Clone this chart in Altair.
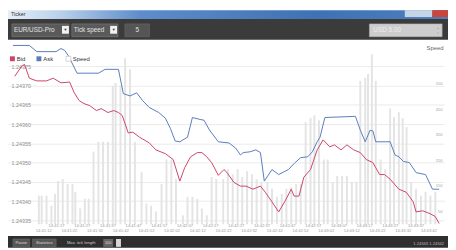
import altair as alt
import pandas as pd

FONT = "Liberation Sans"

# ---------------- data ----------------
ask_time = [0, 6.4, 9.3, 16.8, 18.7, 20.2, 21.7, 25.0, 33.3, 35.9, 41.1, 43.0, 45.6, 48.2, 50.5,
            53.1, 56.8, 59.4, 61.3, 63.2, 65.0, 68.0, 69.9, 72.9, 74.4, 76.6, 80.0, 84.1, 86.7, 88.6,
            89.7, 92.3, 94.6, 96.4, 97.9, 100.9, 103.5, 107.3, 109.9, 112.1, 114.8, 116.6, 118.5, 119.6,
            121.5, 133.4, 135.3, 137.2, 139.1, 140.2, 141.3, 146.9, 148.8, 150.3, 152.1, 154.4, 157.0,
            160.7, 163.4, 166.0]
ask_price = [1.243804, 1.243804, 1.243788, 1.243788, 1.243796, 1.243791, 1.243776, 1.243732, 1.243732,
             1.243742, 1.243742, 1.243679, 1.243673, 1.243681, 1.243661, 1.243643, 1.243630, 1.243615,
             1.243589, 1.243556, 1.243554, 1.243566, 1.243617, 1.243612, 1.243610, 1.243584, 1.243554,
             1.243551, 1.243538, 1.243520, 1.243526, 1.243528, 1.243533, 1.243526, 1.243452, 1.243482,
             1.243469, 1.243482, 1.243500, 1.243513, 1.243515, 1.243528, 1.243554, 1.243566, 1.243617,
             1.243620, 1.243584, 1.243554, 1.243584, 1.243582, 1.243554, 1.243554, 1.243520, 1.243515,
             1.243503, 1.243500, 1.243474, 1.243469, 1.243431, 1.243431]

bid_time = [0.7, 3.4, 4.5, 6.4, 9.3, 13.1, 15.7, 18.7, 22.1, 23.9, 25.8, 27.7, 29.9, 32.5, 34.4, 37.0,
            39.3, 41.1, 42.6, 44.9, 46.7, 49.3, 53.1, 55.7, 59.4, 62.4, 65.0, 66.9, 69.2, 71.8, 73.6,
            75.5, 77.4, 80.0, 82.2, 83.4, 86.0, 88.6, 90.8, 93.5, 96.4, 98.3, 100.9, 103.5, 105.8, 108.4,
            109.5, 111.4, 113.3, 115.9, 118.5, 120.8, 123.4, 125.2, 127.8, 130.1, 132.7, 135.3, 137.6,
            140.2, 142.8, 144.7, 146.9, 150.3, 153.2, 155.9, 157.0, 159.6, 162.6, 164.5, 166.0]
bid_price = [1.243724, 1.243750, 1.243755, 1.243719, 1.243712, 1.243712, 1.243719, 1.243707, 1.243709,
             1.243681, 1.243661, 1.243653, 1.243648, 1.243635, 1.243640, 1.243630, 1.243635, 1.243630,
             1.243622, 1.243577, 1.243579, 1.243566, 1.243551, 1.243533, 1.243523, 1.243508, 1.243452,
             1.243487, 1.243515, 1.243526, 1.243526, 1.243515, 1.243500, 1.243467, 1.243482, 1.243474,
             1.243449, 1.243439, 1.243439, 1.243431, 1.243439, 1.243423, 1.243398, 1.243372, 1.243398,
             1.243431, 1.243413, 1.243413, 1.243462, 1.243482, 1.243533, 1.243559, 1.243541, 1.243546,
             1.243533, 1.243546, 1.243533, 1.243526, 1.243508, 1.243500, 1.243469, 1.243469, 1.243457,
             1.243431, 1.243423, 1.243398, 1.243372, 1.243375, 1.243367, 1.243360, 1.243342]

speed_time = [10.1, 11.2, 13.1, 15.0, 16.4, 17.6, 19.4, 21.3, 23.2, 24.3, 26.2, 28.0, 29.5, 31.4,
              33.3, 35.1, 37.0, 38.9, 40.0, 41.9, 43.7, 45.6, 47.5,
              50.1, 52.0, 53.8, 55.7, 57.9, 59.8, 61.7, 63.5, 66.2, 68.0, 69.9, 71.8, 73.6, 75.5, 77.4, 79.2, 81.9,
              83.7, 85.6, 87.5, 89.3, 91.2, 93.1, 94.9, 96.8, 99.1, 100.9, 102.8, 104.7, 106.5, 108.4, 110.3, 112.1,
              114.0, 115.9, 117.4, 119.2, 121.1, 122.6, 124.5, 126.3, 128.2, 130.1, 132.0, 133.8,
              135.3, 137.2, 138.3, 139.8, 141.3, 143.2, 145.0, 146.9, 148.4, 150.3, 151.8, 153.3,
              155.1, 157.0, 158.9, 160.7, 162.6, 164.5]
speed_value = [112, 112, 112, 73, 119, 169, 177, 158, 158, 127, 62, 100, 100, 285,
               323, 323, 323, 543, 554, 543, 651, 608, 323,
               204, 81, 73, 50, 158, 254, 254, 177, 35, 108, 108, 100, 62, 35, 185, 177, 177,
               216, 196, 216, 185, 208, 196, 177, 166, 166, 139, 108, 119, 139, 146, 158, 158,
               400, 416, 427, 408, 254, 254, 166, 189, 189, 189, 166, 166,
               562, 574, 589, 666, 562, 254, 216, 454, 420, 439, 416, 381,
               166, 139, 112, 127, 112, 127]

price_ticks = [1.24335, 1.24340, 1.24345, 1.24350, 1.24355, 1.24360, 1.24365, 1.24370, 1.24375]
speed_ticks = [50, 150, 250, 350, 450, 550]
time_ticks = [12, 17, 22, 27, 32, 37, 42, 47, 52, 57, 62, 67, 72, 77, 82, 87, 92, 97, 102, 107,
              112, 117, 122, 127, 132, 137, 142, 147, 152, 157, 162]
time_labels = ["14:41:12", "14:41:17", "14:41:22", "14:41:27", "14:41:32", "14:41:37", "14:41:42",
               "14:41:47", "14:41:52", "14:41:57", "14:42:02", "14:42:07", "14:42:12", "14:42:17",
               "14:42:22", "14:42:27", "14:42:32", "14:42:37", "14:42:42", "14:42:47", "14:42:52",
               "14:42:57", "14:43:02", "14:43:07", "14:43:12", "14:43:17", "14:43:22", "14:43:27",
               "14:43:32", "14:43:37", "14:43:42"]
series_names = ["Bid", "Ask"]
series_colors = ["#cc4468", "#5a7bbb"]

# ---------------- tables ----------------
lines_df = pd.concat([
    pd.DataFrame({"t": ask_time, "price": ask_price, "series": "Ask"}),
    pd.DataFrame({"t": bid_time, "price": bid_price, "series": "Bid"}),
])
bars_df = pd.DataFrame({"t": speed_time, "speed": speed_value})
xlab_df = pd.DataFrame({"t": time_ticks, "label": time_labels,
                        "row": [i % 2 for i in range(len(time_ticks))]})
deco = pd.DataFrame({"k": [0]})

W, H = 444, 186
xscale = alt.Scale(domain=[0, 166], nice=False, zero=False)

bars = alt.Chart(bars_df).mark_bar(size=2, color="#e4e4e4").encode(
    x=alt.X("t:Q", scale=xscale, axis=None),
    y=alt.Y("speed:Q", scale=alt.Scale(domain=[0, 716], nice=False),
            axis=alt.Axis(orient="right", values=speed_ticks, title="Speed", titleAngle=0,
                          titleAnchor="end", titleAlign="right", titleBaseline="middle",
                          titleX=-1, titleY=6, titleColor="#666666", titleFont=FONT,
                          titleFontSize=6, titleFontWeight="normal",
                          grid=False, ticks=False,
                          domain=False, labelAlign="right", labelPadding=-2, labelFontSize=4.2,
                          labelColor="#a5a5a5", labelFont=FONT)),
)

lines = alt.Chart(lines_df).mark_line(strokeWidth=1).encode(
    x=alt.X("t:Q", scale=xscale, axis=None),
    y=alt.Y("price:Q", scale=alt.Scale(domain=[1.24334, 1.243814], nice=False, zero=False),
            axis=alt.Axis(orient="left", values=price_ticks, format=".5f", title=None, grid=True,
                          gridColor="#e6e6e6", gridWidth=0.8, ticks=False, domain=False,
                          labelAlign="left", labelPadding=-3, labelFontSize=5.5,
                          labelColor="#8f8f8f", labelFont=FONT)),
    color=alt.Color("series:N", scale=alt.Scale(domain=series_names, range=series_colors), legend=None),
    detail="series:N",
)

xl_low = alt.Chart(xlab_df).transform_filter("datum.row == 0").mark_text(
    fontSize=4.2, fill="#9a9a9a", font=FONT).encode(
    x=alt.X("t:Q", scale=xscale, axis=None), y=alt.value(193), text="label:N")
xl_up = alt.Chart(xlab_df).transform_filter("datum.row == 1").mark_text(
    fontSize=4.2, fill="#9a9a9a", font=FONT).encode(
    x=alt.X("t:Q", scale=xscale, axis=None), y=alt.value(187.5), text="label:N")


def box(x1, x2, y1, y2, fill, stroke=None, sw=0.6, **kw):
    props = dict(fill=fill, **kw)
    if stroke:
        props.update(stroke=stroke, strokeWidth=sw)
    return alt.Chart(deco).mark_rect(**props).encode(
        x=alt.value(x1), x2=alt.value(x2), y=alt.value(y1), y2=alt.value(y2))


def txt(s, x, y, size=6, color="#dddddd", align="left"):
    return alt.Chart(deco).mark_text(text=s, fontSize=size, fill=color, align=align,
                                     baseline="middle", font=FONT).encode(
        x=alt.value(x), y=alt.value(y))


title_grad = alt.Gradient(gradient="linear", x1=0, x2=1, y1=0, y2=0, stops=[
    alt.GradientStop(color="#e6eef8", offset=0),
    alt.GradientStop(color="#b9d0ea", offset=0.12),
    alt.GradientStop(color="#5d8dca", offset=0.3),
    alt.GradientStop(color="#3f72b4", offset=0.7),
    alt.GradientStop(color="#4d7fbf", offset=1),
])

deco_layers = [
    # title bar
    alt.Chart(deco).mark_rect(color=title_grad).encode(
        x=alt.value(0), x2=alt.value(448), y=alt.value(-32), y2=alt.value(-23)),
    txt("Ticker", 3, -28, size=5.5, color="#333333"),
    box(404, 432, -32, -25, "#c5d5e8"),
    box(432, 448, -32, -25, "#c8463c"),
    # toolbar
    box(0, 448, -23, -2, "#3b3b3b"),
    box(4, 62, -18, -5, "#5a5a5a", stroke="#808080"),
    txt("EUR/USD-Pro", 6, -11.5, size=6.5, color="#e2e2e2"),
    box(55, 62, -16, -8, "#f2f2f2"),
    txt("▼", 58.5, -11.8, size=4, color="#333333", align="center"),
    box(65, 112, -18, -5, "#5a5a5a", stroke="#808080"),
    txt("Tick speed", 67, -11.5, size=6.5, color="#e2e2e2"),
    box(104, 111, -16, -8, "#f2f2f2"),
    txt("▼", 107.5, -11.8, size=4, color="#333333", align="center"),
    box(119, 144, -18, -5, "#555555", stroke="#6a6a6a"),
    txt("5", 131.5, -11.5, size=6.5, color="#e2e2e2", align="center"),
    box(368, 442, -18, -5, "#cdcdcd", stroke="#b0b0b0"),
    txt("USD 5.00", 372, -11.5, size=6.5, color="#eeeeee"),
    txt("▴", 438, -14, size=3.5, color="#999999", align="center"),
    txt("▾", 438, -9, size=3.5, color="#999999", align="center"),
    # bottom status bar
    box(0, 448, 198, 210, "#2f2f2f"),
    box(5, 22, 201, 209, "#555555", stroke="#6a6a6a"),
    txt("Pause", 13.5, 205, size=4.2, color="#dddddd", align="center"),
    box(25, 49, 201, 209, "#555555", stroke="#6a6a6a"),
    txt("Statistics", 37, 205, size=4.2, color="#dddddd", align="center"),
    txt("Max. tick length", 60, 205, size=4.2, color="#cccccc"),
    box(97, 107, 201, 209, "#666666"),
    txt("100", 102, 205, size=4, color="#dddddd", align="center"),
    box(110, 115, 201, 209, "#d8d8d8"),
    txt("1.24343  1.24342", 444, 206, size=4.2, color="#bbbbbb", align="right"),
    # legend
    box(2, 7, 15, 20, series_colors[0]),
    txt("Bid", 9, 17.5, size=6, color="#333333"),
    box(29, 34, 15, 20, series_colors[1]),
    txt("Ask", 36, 17.5, size=6, color="#333333"),
    box(59, 64, 15, 20, "#ffffff", stroke="#bbbbbb"),
    txt("Speed", 66, 17.5, size=6, color="#333333"),
]

chart = alt.layer(bars, lines, xl_low, xl_up, *deco_layers).resolve_scale(
    y="independent"
).properties(
    width=W, height=H,
    autosize=alt.AutoSizeParams(type="none"),
    padding={"left": 0, "top": 32, "right": 4, "bottom": 24},
).configure_view(stroke=None)

chart.save("out.html", embed_options={"renderer": "svg", "actions": False})
